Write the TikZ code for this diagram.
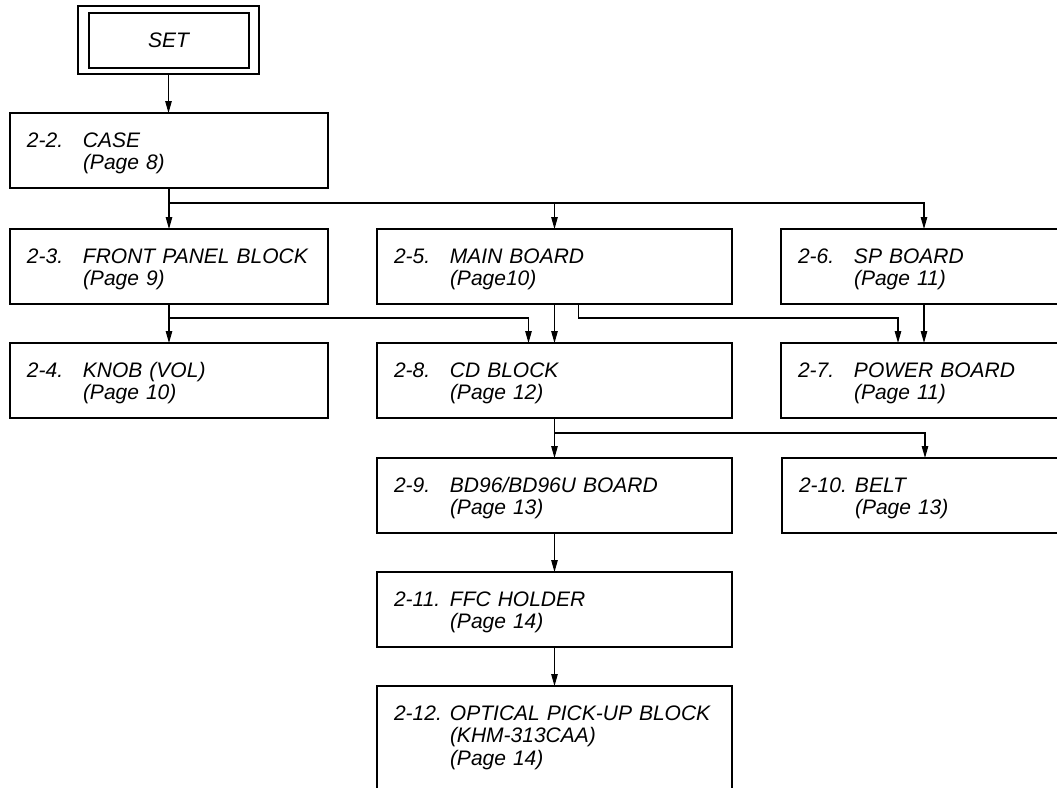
\documentclass[tikz,border=0pt]{standalone}
\usepackage{fontspec}
\setmainfont{Liberation Sans}
\usetikzlibrary{positioning,arrows.meta}
\tikzset{
  stepbox/.style={draw, line width=1.1pt, anchor=north west, align=left,
    font=\fontsize{21}{22.5}\selectfont\itshape, inner xsep=17pt,
    inner ysep=14pt, minimum height=75pt, outer sep=0pt},
  leftcol/.style={stepbox, text width=284pt},
  midcol/.style={stepbox, text width=321pt},
  rightcol/.style={stepbox, text width=252pt},
  setbox/.style={draw, line width=1.1pt, minimum width=181pt,
    minimum height=68pt, outer sep=0pt,
    font=\fontsize{21}{22.5}\selectfont\itshape},
  steparr/.style={-{Triangle[length=12pt,width=6.5pt]}, line width=1.1pt},
  stepline/.style={line width=1.1pt},
}
\newcommand{\steptext}[3]{\rule{0pt}{20pt}\makebox[56pt][l]{#1}#2\\\hspace*{56pt}#3}

\begin{document}
\begin{tikzpicture}[x=1pt, y=-1pt]
  \useasboundingbox (0,0) rectangle (1057,787);
  \clip (0,0) rectangle (1057,787);
  % ---- top ----
  \node[setbox] at (168.5,40) (set) {SET};
  \draw[stepline] ([shift={(11,7)}]set.north west) rectangle ([shift={(-10,-6)}]set.south east);
  \node[leftcol] at (10,113) (case) {\steptext{2-2.}{CASE}{(Page 8)}};

  % ---- left column ----
  \node[leftcol] at (10,229) (front) {\steptext{2-3.}{FRONT PANEL BLOCK}{(Page 9)}};
  \node[leftcol] at (10,343) (knob)  {\steptext{2-4.}{KNOB (VOL)}{(Page 10)}};

  % ---- middle column ----
  \node[midcol] at (377,229) (main) {\steptext{2-5.}{MAIN BOARD}{(Page10)}};
  \node[midcol] at (377,343) (cd)   {\steptext{2-8.}{CD BLOCK}{(Page 12)}};
  \node[midcol] at (377,458) (bd)   {\steptext{2-9.}{BD96/BD96U BOARD}{(Page 13)}};
  \node[midcol] at (377,572) (ffc)  {\steptext{2-11.}{FFC HOLDER}{(Page 14)}};
  \node[midcol] at (377,686) (opt)  {\steptext{2-12.}{OPTICAL PICK-UP BLOCK}{(KHM-313CAA)\\\hspace*{56pt}(Page 14)\rule[-25pt]{0pt}{25pt}}};

  % ---- right column ----
  \node[rightcol] at (781,229) (sp)    {\steptext{2-6.}{SP BOARD}{(Page 11)}};
  \node[rightcol] at (781,343) (power) {\steptext{2-7.}{POWER BOARD}{(Page 11)}};
  \node[rightcol] at (782,458) (belt)  {\steptext{2-10.}{BELT}{(Page 13)}};

  % ---- joints ----
  \coordinate (casejoin)  at (169,203);
  \coordinate (frontjoin) at (169,318);
  \coordinate (cdjoin)    at (554.5,433);

  % ---- edges ----
  \draw[steparr] (set.south) -- (set.south |- case.north);
  \draw[stepline] (case.south) -- (casejoin);
  \draw[steparr] (casejoin) -- (front.north);
  \draw[steparr] (casejoin -| main.north) -- (main.north);
  \draw[steparr] (casejoin) -| (sp.north);
  % row 3
  \draw[steparr] (front.south) -- (knob.north);
  \draw[steparr] (frontjoin) -| ([xshift=-26pt]cd.north);
  \draw[steparr] (main.south) -- (cd.north);
  \draw[steparr] ([xshift=24pt]main.south) -- ++(0,14) -| ([xshift=-26pt]power.north);
  \draw[steparr] (sp.south) -- (power.north);
  % CD block chain
  \draw[steparr] (cd.south) -- (bd.north);
  \draw[steparr] (cdjoin) -| (belt.north);
  \draw[steparr] (bd.south) -- (ffc.north);
  \draw[steparr] (ffc.south) -- (opt.north);
\end{tikzpicture}
\end{document}
